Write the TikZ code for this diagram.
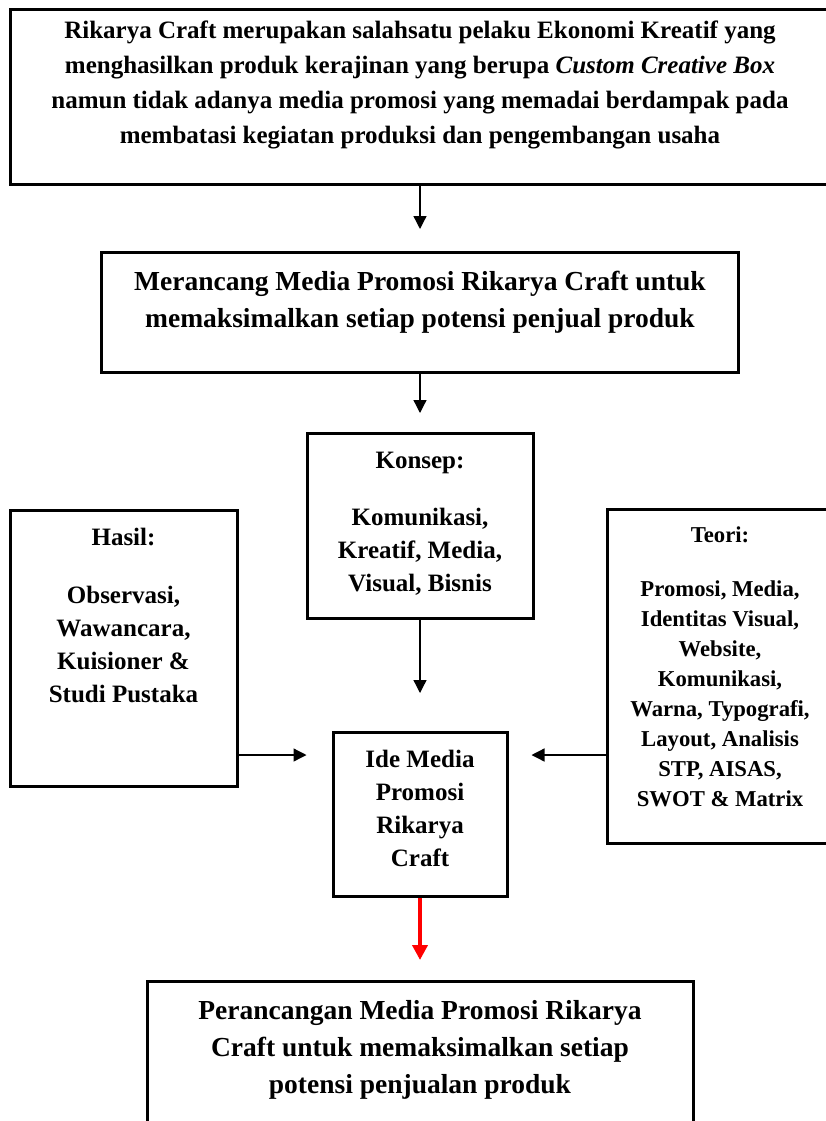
\documentclass[tikz,border=0pt]{standalone}
\usepackage{fontspec}
\setmainfont{Liberation Serif}
\usetikzlibrary{arrows.meta}
\newcommand{\boxtext}[4][12pt]{\parbox[t][#2][t]{#3}{\centering\vspace*{#1}\strut#4}}

\begin{document}
\begin{tikzpicture}[x=1pt,y=-1pt,
  box/.style={draw, rectangle, line width=3pt, inner sep=0pt, anchor=north,
    font=\fontsize{25}{33}\selectfont\bfseries},
  >={Triangle[length=13pt,width=13pt]}]
\useasboundingbox (0,0) rectangle (826,1121);
\node[box, font=\fontsize{25}{35}\selectfont\bfseries] (prob) at (420,8)
  {\boxtext[5pt]{175pt}{820pt}{Rikarya Craft merupakan salahsatu pelaku Ekonomi Kreatif yang\\
  menghasilkan produk kerajinan yang berupa \textit{Custom Creative Box}\\
  namun tidak adanya media promosi yang memadai berdampak pada\\
  membatasi kegiatan produksi dan pengembangan usaha}};
\node[box, font=\fontsize{27.5}{37}\selectfont\bfseries] (goal) at (420,251)
  {\boxtext{120pt}{637pt}{Merancang Media Promosi Rikarya Craft untuk\\
  memaksimalkan setiap potensi penjual produk}};
\node[box] (konsep) at (420,432)
  {\boxtext{185pt}{226pt}{Konsep:\\[24pt] Komunikasi,\\ Kreatif, Media,\\ Visual, Bisnis}};
\node[box] (hasil) at (123.5,509)
  {\boxtext{276pt}{227pt}{Hasil:\\[25pt] Observasi,\\ Wawancara,\\ Kuisioner \&\\ Studi Pustaka}};
\node[box, font=\fontsize{22.7}{30}\selectfont\bfseries] (teori) at (720,508)
  {\boxtext{334pt}{226pt}{Teori:\\[24pt] Promosi, Media,\\ Identitas Visual,\\ Website,\\ Komunikasi,\\
  Warna, Typografi,\\ Layout, Analisis\\ STP, AISAS,\\ SWOT \& Matrix}};
\node[box] (ide) at (420,731)
  {\boxtext{164pt}{174pt}{Ide Media\\ Promosi\\ Rikarya\\ Craft}};
\node[box, font=\fontsize{27.5}{37}\selectfont\bfseries] (final) at (420,980)
  {\boxtext{160pt}{546pt}{Perancangan Media Promosi Rikarya\\
  Craft untuk memaksimalkan setiap\\ potensi penjualan produk}};

\draw[->, line width=1.3pt, shorten >=22pt] (prob) -- (goal);
\draw[->, line width=1.3pt, shorten >=19pt] (goal) -- (konsep);
\draw[->, line width=1.3pt, shorten >=38pt] (konsep) -- (ide);
\draw[->, line width=1.3pt, shorten >=25pt] (hasil.east |- 0,755) -- (ide.west |- 0,755);
\draw[->, line width=1.3pt, shorten >=23pt] (teori.west |- 0,755) -- (ide.east |- 0,755);
\draw[->, red, line width=4.5pt, >={Triangle[length=15pt,width=15pt]}, shorten >=20pt] (ide) -- (final);
\end{tikzpicture}
\end{document}
